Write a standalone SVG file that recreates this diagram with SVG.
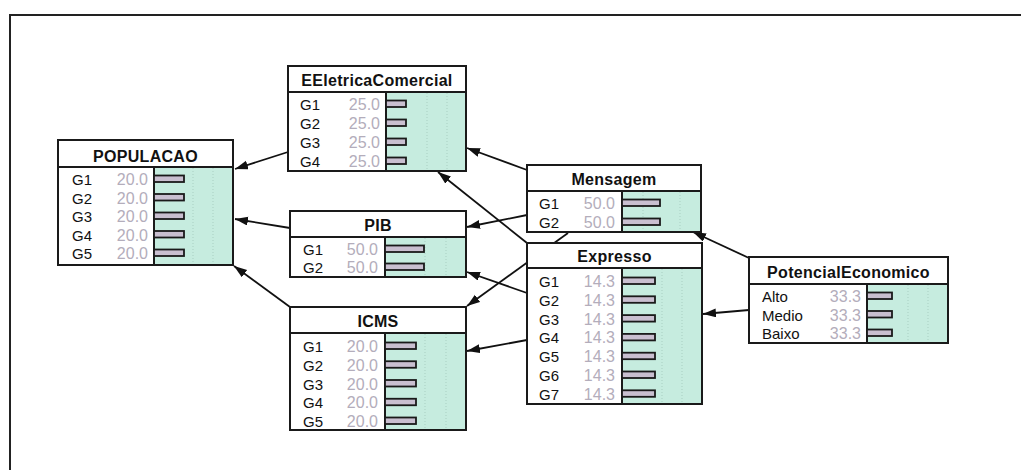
<svg xmlns="http://www.w3.org/2000/svg" width="1021" height="470" viewBox="0 0 1021 470">
<defs>
<marker id="arr" markerUnits="userSpaceOnUse" markerWidth="14" markerHeight="10" refX="13" refY="4.5" orient="auto">
<path d="M0,0 L13,4.5 L0,9 z" fill="#111"/>
</marker>
</defs>
<style>
.bg{fill:#fff}
.frameline{stroke:#222;stroke-width:2;fill:none}
.box{fill:none;stroke:#1a1a1a;stroke-width:2}
.hdr{fill:#fff}
.green{fill:#c6ecdf}
.sep{stroke:#1a1a1a;stroke-width:2}
.grid{stroke:#a9cfc2;stroke-width:1;stroke-dasharray:1 2}
.title{font-family:"Liberation Sans",Arial,sans-serif;font-weight:bold;font-size:16px;fill:#111;text-anchor:middle;letter-spacing:0.3px}
.lbl{font-family:"Liberation Sans",Arial,sans-serif;font-size:15px;fill:#111}
.val{font-family:"Liberation Sans",Arial,sans-serif;font-size:16px;fill:#b3adbb;text-anchor:end}
.bar{fill:#c9bfd0;stroke:#1a1a1a;stroke-width:1.8}
.conn{stroke:#111;stroke-width:1.8;fill:none;marker-end:url(#arr)}
</style>
<rect class="bg" width="1021" height="470"/>
<path class="frameline" d="M10,470 L10,15 L1021,15"/>

<g id="connectors">
<line class="conn" x1="288" y1="152" x2="235" y2="169"/>
<line class="conn" x1="290" y1="228" x2="235" y2="219"/>
<line class="conn" x1="290" y1="307" x2="234" y2="266"/>
<line class="conn" x1="527" y1="170" x2="467" y2="148"/>
<line class="conn" x1="527" y1="243" x2="438" y2="172"/>
<line class="conn" x1="527" y1="215" x2="467" y2="227"/>
<line class="conn" x1="527" y1="293" x2="467" y2="272"/>
<line class="conn" x1="568" y1="233" x2="467" y2="306"/>
<line class="conn" x1="527" y1="340" x2="467" y2="351"/>
<line class="conn" x1="749" y1="258" x2="693" y2="232"/>
<line class="conn" x1="749" y1="310" x2="703" y2="314"/>
</g>

<g id="POPULACAO" transform="translate(58,140)">
<rect class="hdr" width="175" height="125"/>
<rect class="green" x="96" y="27" width="79" height="98"/>
<line class="grid" x1="135" y1="28" x2="135" y2="124"/>
<line class="grid" x1="155" y1="28" x2="155" y2="124"/>
<rect class="box" width="175" height="125"/>
<line class="sep" x1="0" y1="27" x2="175" y2="27"/>
<line class="sep" x1="96" y1="27" x2="96" y2="125"/>
<text class="title" x="87.5" y="22">POPULACAO</text>
<text class="lbl" x="14" y="45">G1</text><text class="val" x="90" y="45">20.0</text><rect class="bar" x="96" y="35.5" width="30" height="6.5"/>
<text class="lbl" x="14" y="63.5">G2</text><text class="val" x="90" y="63.5">20.0</text><rect class="bar" x="96" y="54" width="30" height="6.5"/>
<text class="lbl" x="14" y="82">G3</text><text class="val" x="90" y="82">20.0</text><rect class="bar" x="96" y="72.5" width="30" height="6.5"/>
<text class="lbl" x="14" y="100.5">G4</text><text class="val" x="90" y="100.5">20.0</text><rect class="bar" x="96" y="91" width="30" height="6.5"/>
<text class="lbl" x="14" y="119">G5</text><text class="val" x="90" y="119">20.0</text><rect class="bar" x="96" y="109.5" width="30" height="6.5"/>
</g>

<g id="EEletricaComercial" transform="translate(288,66)">
<rect class="hdr" width="178" height="105"/>
<rect class="green" x="98" y="26" width="80" height="79"/>
<line class="grid" x1="139" y1="27" x2="139" y2="104"/>
<line class="grid" x1="159" y1="27" x2="159" y2="104"/>
<rect class="box" width="178" height="105"/>
<line class="sep" x1="0" y1="26" x2="178" y2="26"/>
<line class="sep" x1="98" y1="26" x2="98" y2="105"/>
<text class="title" x="89" y="20">EEletricaComercial</text>
<text class="lbl" x="12" y="44">G1</text><text class="val" x="92" y="44">25.0</text><rect class="bar" x="98" y="34.5" width="20" height="6.5"/>
<text class="lbl" x="12" y="63">G2</text><text class="val" x="92" y="63">25.0</text><rect class="bar" x="98" y="53.5" width="20" height="6.5"/>
<text class="lbl" x="12" y="82">G3</text><text class="val" x="92" y="82">25.0</text><rect class="bar" x="98" y="72.5" width="20" height="6.5"/>
<text class="lbl" x="12" y="101">G4</text><text class="val" x="92" y="101">25.0</text><rect class="bar" x="98" y="91.5" width="20" height="6.5"/>
</g>

<g id="PIB" transform="translate(290,211)">
<rect class="hdr" width="176" height="66"/>
<rect class="green" x="95" y="26" width="81" height="40"/>
<line class="grid" x1="135" y1="27" x2="135" y2="65"/>
<line class="grid" x1="156" y1="27" x2="156" y2="65"/>
<rect class="box" width="176" height="66"/>
<line class="sep" x1="0" y1="26" x2="176" y2="26"/>
<line class="sep" x1="95" y1="26" x2="95" y2="66"/>
<text class="title" x="88" y="20">PIB</text>
<text class="lbl" x="13" y="44">G1</text><text class="val" x="88" y="44">50.0</text><rect class="bar" x="95" y="34.5" width="39" height="6.5"/>
<text class="lbl" x="13" y="62">G2</text><text class="val" x="88" y="62">50.0</text><rect class="bar" x="95" y="52.5" width="39" height="6.5"/>
</g>

<g id="ICMS" transform="translate(290,307)">
<rect class="hdr" width="176" height="123"/>
<rect class="green" x="95" y="26" width="81" height="97"/>
<line class="grid" x1="135" y1="27" x2="135" y2="122"/>
<line class="grid" x1="156" y1="27" x2="156" y2="122"/>
<rect class="box" width="176" height="123"/>
<line class="sep" x1="0" y1="26" x2="176" y2="26"/>
<line class="sep" x1="95" y1="26" x2="95" y2="123"/>
<text class="title" x="88" y="20">ICMS</text>
<text class="lbl" x="13" y="45">G1</text><text class="val" x="88" y="45">20.0</text><rect class="bar" x="95" y="35.5" width="31" height="6.5"/>
<text class="lbl" x="13" y="63.75">G2</text><text class="val" x="88" y="63.75">20.0</text><rect class="bar" x="95" y="54.25" width="31" height="6.5"/>
<text class="lbl" x="13" y="82.5">G3</text><text class="val" x="88" y="82.5">20.0</text><rect class="bar" x="95" y="73" width="31" height="6.5"/>
<text class="lbl" x="13" y="101.25">G4</text><text class="val" x="88" y="101.25">20.0</text><rect class="bar" x="95" y="91.75" width="31" height="6.5"/>
<text class="lbl" x="13" y="120">G5</text><text class="val" x="88" y="120">20.0</text><rect class="bar" x="95" y="110.5" width="31" height="6.5"/>
</g>

<g id="Mensagem" transform="translate(527,165)">
<rect class="hdr" width="174" height="67"/>
<rect class="green" x="95" y="26" width="79" height="41"/>
<line class="grid" x1="116" y1="27" x2="116" y2="66"/>
<line class="grid" x1="153" y1="27" x2="153" y2="66"/>
<rect class="box" width="174" height="67"/>
<line class="sep" x1="0" y1="26" x2="174" y2="26"/>
<line class="sep" x1="95" y1="26" x2="95" y2="67"/>
<text class="title" x="87" y="20">Mensagem</text>
<text class="lbl" x="12" y="44">G1</text><text class="val" x="88" y="44">50.0</text><rect class="bar" x="95" y="34.5" width="38" height="6.5"/>
<text class="lbl" x="12" y="63">G2</text><text class="val" x="88" y="63">50.0</text><rect class="bar" x="95" y="53.5" width="38" height="6.5"/>
</g>

<g id="Expresso" transform="translate(527,243)">
<rect class="hdr" width="175" height="161"/>
<rect class="green" x="95" y="25" width="80" height="136"/>
<line class="grid" x1="135" y1="26" x2="135" y2="160"/>
<line class="grid" x1="155" y1="26" x2="155" y2="160"/>
<rect class="box" width="175" height="161"/>
<line class="sep" x1="0" y1="25" x2="175" y2="25"/>
<line class="sep" x1="95" y1="25" x2="95" y2="161"/>
<text class="title" x="87.5" y="19">Expresso</text>
<text class="lbl" x="12" y="44">G1</text><text class="val" x="88" y="44">14.3</text><rect class="bar" x="95" y="34.5" width="33" height="6.5"/>
<text class="lbl" x="12" y="62.8">G2</text><text class="val" x="88" y="62.8">14.3</text><rect class="bar" x="95" y="53.3" width="33" height="6.5"/>
<text class="lbl" x="12" y="81.6">G3</text><text class="val" x="88" y="81.6">14.3</text><rect class="bar" x="95" y="72.1" width="33" height="6.5"/>
<text class="lbl" x="12" y="100.4">G4</text><text class="val" x="88" y="100.4">14.3</text><rect class="bar" x="95" y="90.9" width="33" height="6.5"/>
<text class="lbl" x="12" y="119.2">G5</text><text class="val" x="88" y="119.2">14.3</text><rect class="bar" x="95" y="109.7" width="33" height="6.5"/>
<text class="lbl" x="12" y="138">G6</text><text class="val" x="88" y="138">14.3</text><rect class="bar" x="95" y="128.5" width="33" height="6.5"/>
<text class="lbl" x="12" y="156.8">G7</text><text class="val" x="88" y="156.8">14.3</text><rect class="bar" x="95" y="147.3" width="33" height="6.5"/>
</g>

<g id="PotencialEconomico" transform="translate(749,257)">
<rect class="hdr" width="199" height="86"/>
<rect class="green" x="118" y="27" width="81" height="59"/>
<line class="grid" x1="159" y1="28" x2="159" y2="85"/>
<line class="grid" x1="179" y1="28" x2="179" y2="85"/>
<rect class="box" width="199" height="86"/>
<line class="sep" x1="0" y1="27" x2="199" y2="27"/>
<line class="sep" x1="118" y1="27" x2="118" y2="86"/>
<text class="title" x="99.5" y="21">PotencialEconomico</text>
<text class="lbl" x="13" y="45">Alto</text><text class="val" x="112" y="45">33.3</text><rect class="bar" x="118" y="35.5" width="25" height="6.5"/>
<text class="lbl" x="13" y="63.5">Medio</text><text class="val" x="112" y="63.5">33.3</text><rect class="bar" x="118" y="54" width="25" height="6.5"/>
<text class="lbl" x="13" y="82">Baixo</text><text class="val" x="112" y="82">33.3</text><rect class="bar" x="118" y="72.5" width="25" height="6.5"/>
</g>
</svg>
